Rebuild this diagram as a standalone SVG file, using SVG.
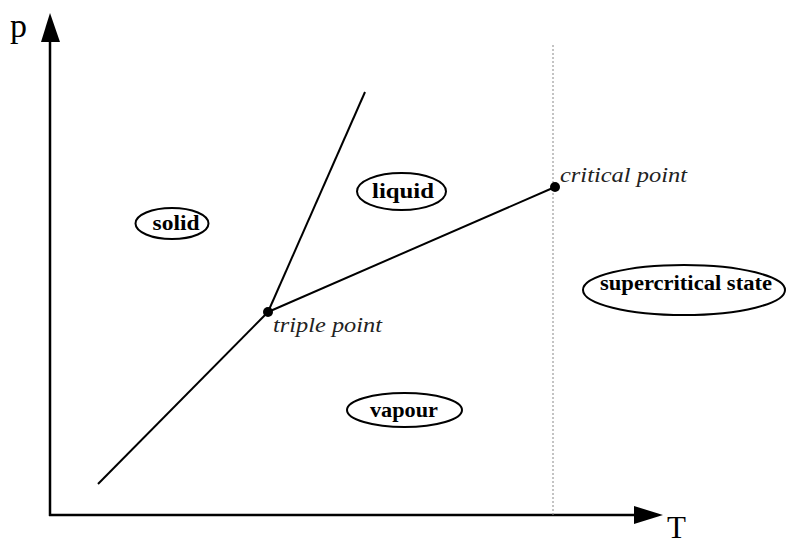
<svg xmlns="http://www.w3.org/2000/svg" width="787" height="547" viewBox="0 0 787 547">
<style>
.ax{stroke:#000;stroke-width:2.5;fill:none}
.ln{stroke:#000;stroke-width:2;fill:none}
.el{stroke:#000;stroke-width:2;fill:#fff}
.lb{font-family:"Liberation Serif",serif;font-weight:bold;font-size:20px;fill:#000;text-anchor:middle}
.it{font-family:"Liberation Serif",serif;font-style:italic;font-size:22px;fill:#222}
.axl{font-family:"Liberation Serif",serif;font-size:34px;fill:#000}
</style>
<rect width="787" height="547" fill="#fff"/>
<g id="axes">
<line class="ax" x1="50" y1="516" x2="50" y2="40"/>
<polygon points="50,13 41,42 60,42" fill="#000"/>
<line class="ax" x1="49" y1="515" x2="636" y2="515"/>
<polygon points="663,515 634,506 634,524" fill="#000"/>
<text class="axl" x="10" y="37">p</text>
<text class="axl" x="667" y="538" style="font-size:31px">T</text>
</g>
<g id="connectors">
<line x1="553" y1="45" x2="553" y2="515" stroke="#888" stroke-width="1" stroke-dasharray="2,2"/>
<line class="ln" x1="98" y1="484" x2="268" y2="312"/>
<line class="ln" x1="268" y1="312" x2="365" y2="92"/>
<line class="ln" x1="268" y1="312" x2="555" y2="187"/>
</g>
<g id="triple-point">
<circle cx="268" cy="312" r="5" fill="#000"/>
<text class="it" x="273" y="332" textLength="109" lengthAdjust="spacingAndGlyphs">triple point</text>
</g>
<g id="critical-point">
<circle cx="555" cy="187" r="5" fill="#000"/>
<text class="it" x="560" y="182" textLength="127" lengthAdjust="spacingAndGlyphs">critical point</text>
</g>
<g id="solid">
<ellipse class="el" cx="172" cy="223.5" rx="36.5" ry="15.5"/>
<text class="lb" x="176" y="230" textLength="47" lengthAdjust="spacingAndGlyphs">solid</text>
</g>
<g id="liquid">
<ellipse class="el" cx="401.5" cy="191.5" rx="44.5" ry="18.5"/>
<text class="lb" x="403" y="198" textLength="62" lengthAdjust="spacingAndGlyphs">liquid</text>
</g>
<g id="supercritical">
<ellipse class="el" cx="684" cy="290" rx="101" ry="25"/>
<text class="lb" x="686" y="290" textLength="172" lengthAdjust="spacingAndGlyphs">supercritical state</text>
</g>
<g id="vapour">
<ellipse class="el" cx="404.5" cy="410" rx="57.5" ry="17"/>
<text class="lb" x="404" y="417" textLength="68" lengthAdjust="spacingAndGlyphs">vapour</text>
</g>
</svg>
